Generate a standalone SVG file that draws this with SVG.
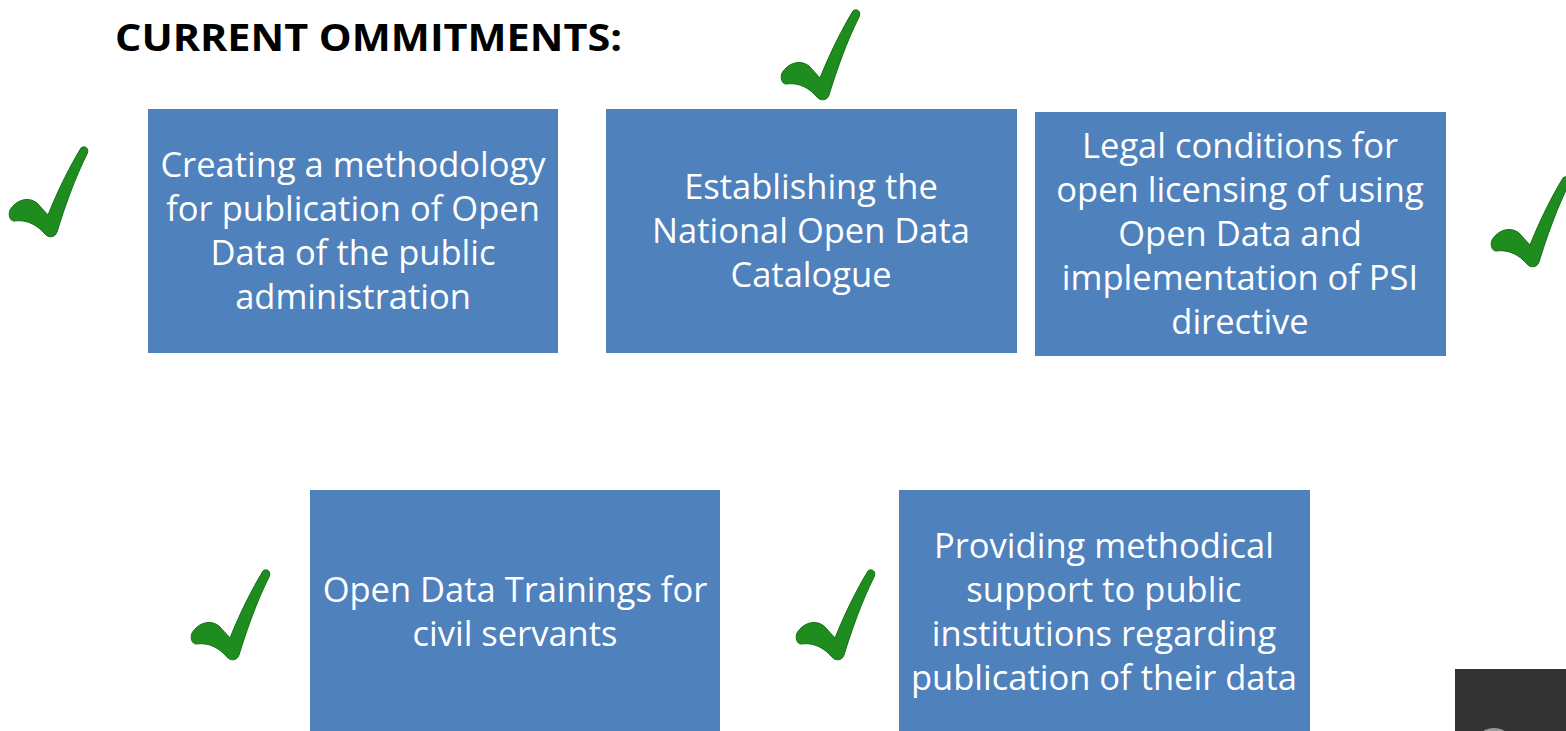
<svg xmlns="http://www.w3.org/2000/svg" width="1566" height="731" viewBox="0 0 1566 731">
<defs>
<style>
.box{fill:#4F81BD;}
.t{font-family:"Open Sans","Liberation Sans",sans-serif;font-size:34.5px;fill:#FFFFFF;text-anchor:middle;}
.title{font-family:"Open Sans","Liberation Sans",sans-serif;font-size:38px;font-weight:bold;fill:#000000;}
.chk{fill:#1E8C1E;stroke:#167016;stroke-width:1;}
</style>
<path id="check" d="M 0 64 C 6 54 18 50 27 57 L 38 69 C 48 44 60 20 71 2 C 74 -1 80 2 77 8 C 65 32 55 60 47 86 C 45 92 38 92 35 88 C 28 80 18 73 4 75 C 0 75 -2 69 0 64 Z"/>
</defs>
<rect width="1566" height="731" fill="#FFFFFF"/>
<text class="title" x="115" y="51" textLength="507" lengthAdjust="spacingAndGlyphs">CURRENT OMMITMENTS:</text>
<g id="connectors"/>
<g id="node1">
<rect class="box" x="148" y="109" width="410" height="244"/>
<text class="t" x="353" y="177">Creating a methodology</text>
<text class="t" x="353" y="221">for publication of Open</text>
<text class="t" x="353" y="265">Data of the public</text>
<text class="t" x="353" y="309">administration</text>
</g>
<g id="node2">
<rect class="box" x="606" y="109" width="411" height="244"/>
<text class="t" x="811" y="199">Establishing the</text>
<text class="t" x="811" y="243">National Open Data</text>
<text class="t" x="811" y="287">Catalogue</text>
</g>
<g id="node3">
<rect class="box" x="1035" y="112" width="411" height="244"/>
<text class="t" x="1240" y="158">Legal conditions for</text>
<text class="t" x="1240" y="202">open licensing of using</text>
<text class="t" x="1240" y="246">Open Data and</text>
<text class="t" x="1240" y="290">implementation of PSI</text>
<text class="t" x="1240" y="334">directive</text>
</g>
<g id="node4">
<rect class="box" x="310" y="490" width="410" height="245"/>
<text class="t" x="515" y="602">Open Data Trainings for</text>
<text class="t" x="515" y="646">civil servants</text>
</g>
<g id="node5">
<rect class="box" x="899" y="490" width="411" height="245"/>
<text class="t" x="1104" y="558">Providing methodical</text>
<text class="t" x="1104" y="602">support to public</text>
<text class="t" x="1104" y="646">institutions regarding</text>
<text class="t" x="1104" y="690">publication of their data</text>
</g>
<g id="checks">
<use href="#check" class="chk" transform="translate(10,146)"/>
<use href="#check" class="chk" transform="translate(782,9)"/>
<use href="#check" class="chk" transform="translate(1492,176)"/>
<use href="#check" class="chk" transform="translate(192,569)"/>
<use href="#check" class="chk" transform="translate(797,569)"/>
</g>
<g id="overlay">
<rect x="1455" y="669" width="111" height="62" fill="#333333"/>
<ellipse cx="1494" cy="734" rx="12" ry="6" fill="#9A9A9A"/>
</g>
</svg>
